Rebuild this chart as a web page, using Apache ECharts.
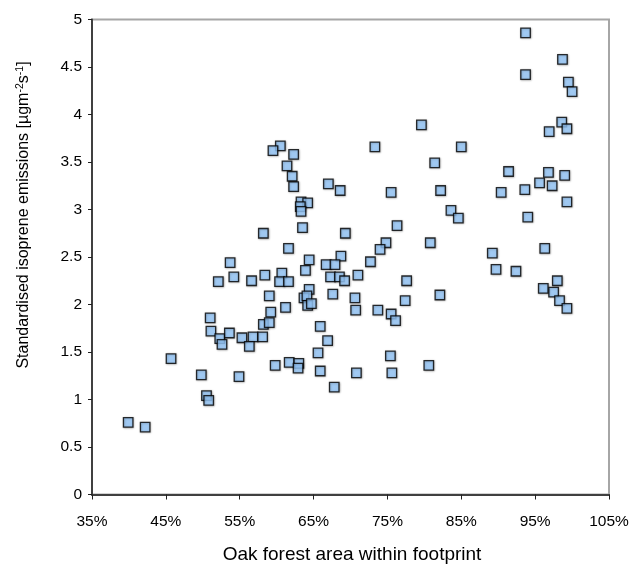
<!DOCTYPE html>
<html>
<head>
<meta charset="utf-8">
<script src="https://cdn.jsdelivr.net/npm/echarts@6/dist/echarts.min.js"></script>
<style>
html,body{margin:0;padding:0;background:#fff;}
#chart{width:633px;height:564px;}
</style>
</head>
<body>
<div id="chart"></div>
<script>
// Oak forest area within footprint (%)
const oakArea = [
  93.7, 98.7, 93.7, 99.5, 100.0, 98.6, 99.3, 96.9, 79.6, 85.0,
  73.3, 60.5, 59.5, 62.3, 81.4, 61.4, 62.1, 91.4, 96.8, 99.0,
  95.6, 97.3, 82.2, 90.4, 93.6, 99.3, 83.6, 84.6, 94.0, 80.8,
  89.2, 96.3, 89.7, 92.4, 98.0, 96.1, 97.5, 98.3, 82.1, 99.3,
  58.2, 53.7, 54.2, 52.1, 56.6, 58.4, 59.0, 59.2, 58.2, 59.0,
  51.0, 51.1, 52.3, 53.6, 55.3, 56.8, 58.1, 52.6, 56.3, 45.7,
  49.8, 54.9, 50.5, 50.8, 39.9, 42.2, 62.3, 67.0, 68.6, 75.5,
  63.3, 64.2, 63.2, 63.3, 63.5, 69.3, 76.3, 74.8, 74.0, 61.6,
  64.4, 68.7, 72.7, 66.7, 67.9, 63.9, 60.7, 60.4, 61.6, 67.3,
  68.5, 69.2, 71.0, 77.6, 64.4, 63.7, 64.1, 64.2, 64.7, 67.6,
  70.6, 77.4, 61.2, 70.7, 73.7, 75.5, 76.1, 65.9, 66.9, 65.6,
  75.4, 59.8, 61.7, 63.0, 62.9, 65.9, 70.8, 75.6, 80.6, 67.8
];
// Standardised isoprene emissions (µg m-2 s-1)
const isoprene = [
  4.86, 4.58, 4.42, 4.34, 4.24, 3.92, 3.85, 3.82, 3.89, 3.66,
  3.66, 3.67, 3.62, 3.58, 3.49, 3.46, 3.35, 3.40, 3.39, 3.36,
  3.28, 3.25, 3.20, 3.18, 3.21, 3.08, 2.99, 2.91, 2.92, 2.65,
  2.54, 2.59, 2.37, 2.35, 2.25, 2.17, 2.13, 2.04, 2.10, 1.96,
  2.75, 2.44, 2.29, 2.24, 2.25, 2.31, 2.09, 1.92, 1.79, 1.81,
  1.86, 1.72, 1.64, 1.70, 1.65, 1.66, 1.66, 1.58, 1.56, 1.43,
  1.26, 1.24, 1.04, 0.99, 0.76, 0.71, 3.24, 3.27, 3.20, 3.18,
  3.08, 3.07, 3.03, 2.98, 2.81, 2.75, 2.83, 2.65, 2.58, 2.59,
  2.47, 2.51, 2.45, 2.42, 2.42, 2.36, 2.33, 2.24, 2.24, 2.29,
  2.29, 2.25, 2.31, 2.25, 2.16, 2.07, 2.09, 1.99, 2.01, 2.11,
  2.07, 2.04, 1.97, 1.94, 1.94, 1.90, 1.83, 1.77, 1.62, 1.49,
  1.46, 1.36, 1.39, 1.38, 1.33, 1.30, 1.28, 1.28, 1.36, 1.13
];
const xTicks = [35, 45, 55, 65, 75, 85, 95, 105];
const yTicks = [0, 0.5, 1, 1.5, 2, 2.5, 3, 3.5, 4, 4.5, 5];

const points = oakArea.map((x, i) => [x, isoprene[i]]);
const font = 'Liberation Sans, Arial, sans-serif';

const chart = echarts.init(document.getElementById('chart'), null, {renderer: 'canvas'});
chart.setOption({
  animation: false,
  backgroundColor: '#fff',
  grid: {
    left: 92, right: 24, top: 19.5, bottom: 69.5,
    show: true, borderColor: '#a6a6a6', borderWidth: 2, backgroundColor: 'transparent'
  },
  xAxis: {
    type: 'value',
    min: xTicks[0], max: xTicks[xTicks.length - 1], interval: 10,
    axisLine: {show: true, onZero: false, lineStyle: {color: '#404040', width: 2}},
    axisTick: {show: true, length: 5, lineStyle: {color: '#202020', width: 1}},
    splitLine: {show: false},
    axisLabel: {
      formatter: '{value}%', color: '#000', fontFamily: font, fontSize: 15.5, margin: 19,
      showMinLabel: true, showMaxLabel: true
    }
  },
  yAxis: {
    type: 'value',
    min: yTicks[0], max: yTicks[yTicks.length - 1], interval: 0.5,
    axisLine: {show: true, onZero: false, lineStyle: {color: '#404040', width: 2}},
    axisTick: {show: true, length: 4, lineStyle: {color: '#202020', width: 1}},
    splitLine: {show: false},
    axisLabel: {color: '#000', fontFamily: font, fontSize: 15.5, margin: 10}
  },
  graphic: [
    {
      type: 'text', x: 352, y: 555,
      style: {text: 'Oak forest area within footprint', fill: '#000', font: '19px ' + font,
        align: 'center', verticalAlign: 'middle'}
    },
    {
      type: 'text', x: 24, y: 215, rotation: Math.PI / 2,
      style: {
        text: '{t|Standardised isoprene emissions [µgm}{s|-2}{t|s}{s|-1}{t|]}',
        align: 'center', verticalAlign: 'middle',
        rich: {
          t: {fontSize: 16, fontFamily: font, fill: '#000', color: '#000'},
          s: {fontSize: 10.5, fontFamily: font, fill: '#000', color: '#000', verticalAlign: 'top', padding: [0, 0, 8, 0]}
        }
      }
    }
  ],
  series: [{
    type: 'scatter',
    data: points,
    symbol: 'rect',
    symbolSize: 9.5,
    itemStyle: {
      color: '#99ccff', borderColor: '#000', borderWidth: 1.3,
      shadowColor: 'rgba(0,0,0,0.35)', shadowBlur: 2, shadowOffsetX: 0.5, shadowOffsetY: 0.5
    }
  }]
});
</script>
</body>
</html>
